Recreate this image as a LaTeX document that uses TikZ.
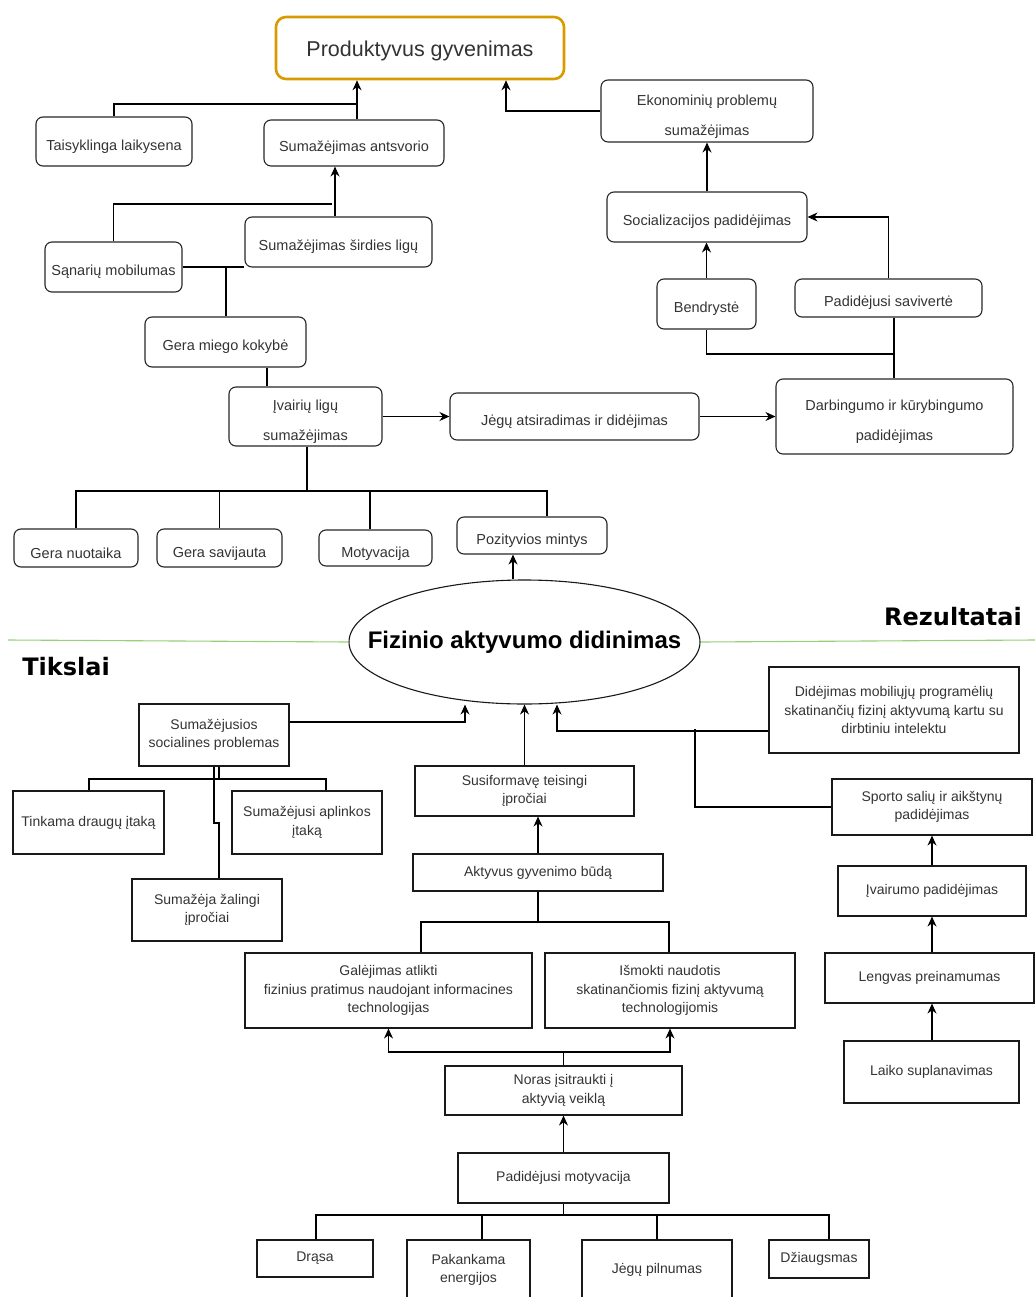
\documentclass[tikz,border=0pt]{standalone}
\usepackage{fontspec}
\setmainfont{Liberation Sans}
\newfontfamily\headfont{DejaVu Sans}
\usetikzlibrary{arrows.meta,shapes.geometric}
\definecolor{prodorange}{RGB}{215,155,0}
\definecolor{axisgreen}{RGB}{151,208,119}
\definecolor{boxgray}{RGB}{51,51,51}
\tikzset{
  roundbox/.style={draw=black!85,text=boxgray,rounded corners=7pt,line width=1.1pt,inner sep=0pt,align=center,text height=21pt,font=\fontsize{14.5}{18}\selectfont},
  widegap/.style={text height=52pt,font=\fontsize{14.5}{30}\selectfont},
  flatbox/.style={draw=black!90,text=boxgray,line width=1.1pt,inner sep=0pt,align=center,font=\fontsize{14}{18.5}\selectfont},
  boxsize/.style 2 args={minimum width=#1,minimum height=#2},
  heading/.style={font=\headfont\bfseries\fontsize{24}{28}\selectfont,text=black}
}

\begin{document}
\begin{tikzpicture}[x=1pt,y=-1pt,line width=1.1pt,>={Stealth[length=10pt,width=9pt]}]
            \useasboundingbox (0,0) rectangle (1035,1297);
            \clip (0,0) rectangle (1035,1297);
            \node[draw=prodorange,line width=2.6pt,rounded corners=10pt,boxsize={288}{62},text height=21pt,text=boxgray,font=\fontsize{21.5}{26}\selectfont] (prod) at (420,48) {Produktyvus gyvenimas};
            \node[roundbox,boxsize={156}{49}] (tais) at (114,141.5) {Taisyklinga laikysena};
            \node[roundbox,boxsize={180}{46}] (antsv) at (354,143) {Sumažėjimas antsvorio};
            \node[roundbox,widegap,boxsize={212}{62}] (ekon) at (707,111) {Ekonominių problemų\\sumažėjimas};
            \node[roundbox,boxsize={187}{50}] (sirdies) at (338.5,242) {Sumažėjimas širdies ligų};
            \node[roundbox,boxsize={137}{50}] (sanar) at (113.5,267) {Sąnarių mobilumas};
            \node[roundbox,boxsize={200}{50}] (social) at (707,217) {Socializacijos padidėjimas};
            \node[roundbox,boxsize={99}{50}] (bendr) at (706.5,304) {Bendrystė};
            \node[roundbox,boxsize={187}{38}] (savi) at (888.5,298) {Padidėjusi savivertė};
            \node[roundbox,boxsize={161}{50}] (miego) at (225.5,342) {Gera miego kokybė};
            \node[roundbox,widegap,boxsize={153}{59}] (ligu) at (305.5,416.5) {Įvairių ligų\\sumažėjimas};
            \node[roundbox,boxsize={249}{47}] (jegu) at (574.5,416.5) {Jėgų atsiradimas ir didėjimas};
            \node[roundbox,widegap,boxsize={237}{75}] (darb) at (894.5,416.5) {Darbingumo ir kūrybingumo\\padidėjimas};
            \node[roundbox,boxsize={124}{38}] (nuot) at (76,548) {Gera nuotaika};
            \node[roundbox,boxsize={125}{38}] (savij) at (219.5,548) {Gera savijauta};
            \node[roundbox,boxsize={113}{36}] (motyv) at (375.5,548) {Motyvacija};
            \node[roundbox,boxsize={150}{37}] (pozit) at (532,535.5) {Pozityvios mintys};
            \node[ellipse,draw=black!90,line width=1.1pt,inner xsep=-34pt,inner ysep=0pt,boxsize={351}{124},font=\bfseries\fontsize{24}{28}\selectfont] (fiz) at (524.5,642) {Fizinio aktyvumo didinimas};
            \node[heading] (tikslai) at (66,667) {Tikslai};
            \node[heading] (rezult) at (953,617) {Rezultatai};
            \node[flatbox,boxsize={150}{62}] (socprob) at (214,735) {Sumažėjusios\\socialines problemas};
            \node[flatbox,boxsize={250}{86}] (mob) at (894,710) {Didėjimas mobiliųjų programėlių\\skatinančių fizinį aktyvumą kartu su\\dirbtiniu intelektu};
            \node[flatbox,boxsize={151}{63}] (draug) at (88.5,822.5) {Tinkama draugų įtaką};
            \node[flatbox,boxsize={150}{63}] (aplink) at (307,822.5) {Sumažėjusi aplinkos\\įtaką};
            \node[flatbox,boxsize={150}{62}] (zaling) at (207,910) {Sumažėja žalingi\\įpročiai};
            \node[flatbox,boxsize={219}{50}] (iprociai) at (524.5,791) {Susiformavę teisingi\\įpročiai};
            \node[flatbox,boxsize={200}{56}] (sporto) at (932,807) {Sporto salių ir aikštynų\\padidėjimas};
            \node[flatbox,boxsize={250}{37}] (budas) at (538,872.5) {Aktyvus gyvenimo būdą};
            \node[flatbox,boxsize={188}{50}] (ivair) at (932,891) {Įvairumo padidėjimas};
            \node[flatbox,boxsize={287}{75}] (galej) at (388.5,990.5) {Galėjimas atlikti\\fizinius pratimus naudojant informacines\\technologijas};
            \node[flatbox,boxsize={250}{75}] (ismok) at (670,990.5) {Išmokti naudotis\\skatinančiomis fizinį aktyvumą\\technologijomis};
            \node[flatbox,boxsize={209}{50}] (lengv) at (929.5,978) {Lengvas preinamumas};
            \node[flatbox,boxsize={175}{62}] (laiko) at (931.5,1072) {Laiko suplanavimas};
            \node[flatbox,boxsize={237}{49}] (noras) at (563.5,1090.5) {Noras įsitraukti į\\aktyvią veiklą};
            \node[flatbox,boxsize={211}{50}] (padmot) at (563.5,1178) {Padidėjusi motyvacija};
            \node[flatbox,boxsize={116}{37}] (drasa) at (315,1258.5) {Drąsa};
            \node[flatbox,boxsize={123}{60}] (pakank) at (468.5,1270) {Pakankama\\energijos};
            \node[flatbox,boxsize={150}{60}] (jegpil) at (657,1270) {Jėgų pilnumas};
            \node[flatbox,boxsize={100}{38}] (dziaug) at (819,1259) {Džiaugsmas};
            \coordinate (topbar) at (357,104);
            \coordinate (heartbar) at (332,204);
            \coordinate (sleepjoin) at (226,267);
            \coordinate (selfbar) at (894,354);
            \coordinate (healthbar) at (0,491);
            \coordinate (socbar) at (0,779);
            \coordinate (habitbar) at (0,922);
            \coordinate (wishbar) at (0,1052);
            \coordinate (motbar) at (0,1215);
            \coordinate (appjoin) at (695,729);
            \draw[axisgreen] (8,640) -- (fiz.west);
            \draw[axisgreen] (fiz.east) -- (1035,640);
            \draw[->] (antsv.north -| topbar) -- (prod.south -| topbar);
            \draw (tais.north) |- (topbar);
            \draw[->] (ekon.west) -| (prod.south -| 506,0);
            \draw[->] (sirdies.north -| 335,0) -- (antsv.south -| 335,0);
            \draw (sanar.north) |- (heartbar);
            \draw (sanar.east) -- (sirdies.west |- sanar.east);
            \draw (sleepjoin) -- (miego.north -| sleepjoin);
            \draw (miego.south -| 267,0) -- (ligu.north -| 267,0);
            \draw[->] (ligu.east) -- (jegu.west);
            \draw[->] (jegu.east) -- (darb.west);
            \draw[->] (social.north) -- (ekon.south);
            \draw[->] (bendr.north) -- (social.south -| bendr.north);
            \draw[->] (savi.north) |- (social.east);
            \draw (bendr.south) |- (selfbar);
            \draw (savi.south -| selfbar) -- (darb.north -| selfbar);
            \draw (ligu.south -| 307,0) -- (307,491);
            \draw (nuot.north) |- (547,491) -- (pozit.north -| 547,0);
            \draw (savij.north) -- (savij.north |- healthbar);
            \draw (motyv.north -| 370,0) -- (370,491);
            \draw[->] (fiz.north -| 513,0) -- (pozit.south -| 513,0);
            \draw[->] (socprob.east |- 0,722) -| (fiz.south -| 465,0);
            \draw (socprob.south -| 219,0) -- (219,779);
            \draw (draug.north -| 89,0) |- (326,779) -- (aplink.north -| 326,0);
            \draw (socprob.south -| 214,0) -- (214,823) -- (219,823) -- (zaling.north -| 219,0);
            \draw[->] (iprociai.north) -- (fiz.south -| iprociai.north);
            \draw[->] (budas.north) -- (iprociai.south -| budas.north);
            \draw (budas.south) -- (budas.south |- habitbar);
            \draw (galej.north -| 421,0) |- (669,922) -- (ismok.north -| 669,0);
            \draw (noras.north) -- (noras.north |- wishbar);
            \draw[<->] (galej.south) |- (670,1052) -- (ismok.south -| 670,0);
            \draw[->] (padmot.north) -- (noras.south);
            \draw (padmot.south) -- (padmot.south |- motbar);
            \draw (drasa.north -| 316,0) |- (829,1215) -- (dziaug.north -| 829,0);
            \draw (pakank.north -| 482,0) -- (482,1215);
            \draw (jegpil.north) -- (jegpil.north |- motbar);
            \draw[->] (mob.west |- 0,731) -| (fiz.south -| 557,0);
            \draw (sporto.west) -| (appjoin);
            \draw[->] (ivair.north) -- (sporto.south);
            \draw[->] (lengv.north -| ivair.north) -- (ivair.south);
            \draw[->] (laiko.north -| ivair.north) -- (lengv.south -| ivair.north);
        \end{tikzpicture}
\end{document}
